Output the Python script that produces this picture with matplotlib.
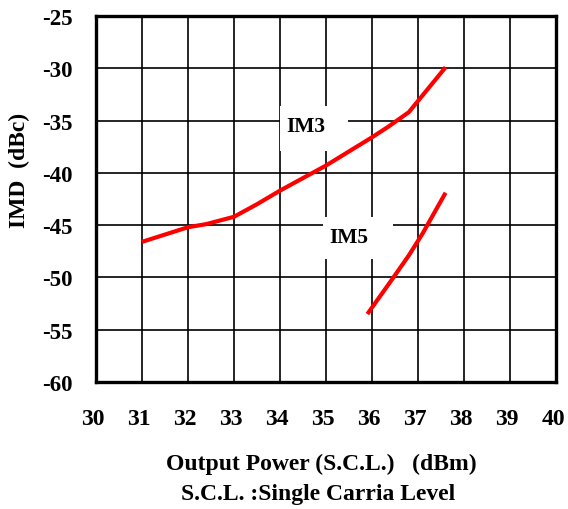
import matplotlib
matplotlib.use('Agg')
import matplotlib.pyplot as plt
import matplotlib.transforms as mtransforms
from matplotlib.patches import Rectangle

# IM3 / IM5 curves
im3_x = [31.0, 32.0, 32.4, 33.0, 33.5, 34.0, 35.0, 36.0, 36.35, 36.8, 37.6]
im3_y = [-46.6, -45.2, -44.9, -44.2, -43.0, -41.7, -39.3, -36.6, -35.6, -34.2, -29.9]
im5_x = [35.9, 36.45, 36.8, 37.1, 37.6]
im5_y = [-53.5, -50.1, -47.9, -45.8, -41.9]

x_ticks = list(range(30, 41))
y_ticks = list(range(-60, -24, 5))

plt.rcParams['font.family'] = ['Liberation Serif', 'DejaVu Serif']
plt.rcParams['font.weight'] = 'bold'

fig = plt.figure(figsize=(5.68, 5.1), dpi=100)
ax = fig.add_axes([96 / 568, 1 - 383 / 510, 460 / 568, 366 / 510])

ax.set_xlim(30, 40)
ax.set_ylim(-60, -25)
ax.set_xticks(x_ticks)
ax.set_yticks(y_ticks)
ax.set_xticklabels([str(v) for v in x_ticks], fontsize=17, fontweight='bold')
ax.set_yticklabels([str(v) for v in y_ticks], fontsize=16.5, fontweight='bold')
ax.tick_params(axis='both', length=0)
ax.tick_params(axis='x', pad=19)
ax.tick_params(axis='y', pad=17)

# x labels sit a little left of their gridlines in the reference
shift = mtransforms.ScaledTranslation(-3 / 100, 0, fig.dpi_scale_trans)
for lbl in ax.get_xticklabels():
    lbl.set_transform(lbl.get_transform() + shift)

ax.grid(True, color='black', linewidth=1.2)
ax.set_axisbelow(True)
for s in ax.spines.values():
    s.set_linewidth(2.4)
    s.set_color('black')

ax.plot(im3_x, im3_y, color='#ff0000', linewidth=3, solid_capstyle='butt', zorder=3)
ax.plot(im5_x, im5_y, color='#ff0000', linewidth=3, solid_capstyle='butt', zorder=3)

# white boxes under the curve labels, hiding the grid
ax.add_patch(Rectangle((34.0, -37.9), 1.48, 4.3, facecolor='white', edgecolor='none', zorder=2))
ax.add_patch(Rectangle((34.93, -48.2), 1.53, 4.0, facecolor='white', edgecolor='none', zorder=2))
ax.text(34.57, -35.5, 'IM3', fontsize=15.5, fontweight='bold', ha='center', va='center', zorder=4)
ax.text(35.5, -46.1, 'IM5', fontsize=15.5, fontweight='bold', ha='center', va='center', zorder=4)

fig.text(19 / 568, 1 - 170 / 510, 'IMD  (dBc)', rotation=90, fontsize=17, fontweight='bold',
         ha='center', va='center')
fig.text(321 / 568, 1 - 464 / 510, 'Output Power (S.C.L.)   (dBm)', fontsize=17,
         fontweight='bold', ha='center', va='center')
fig.text(318 / 568, 1 - 495 / 510, 'S.C.L. :Single Carria Level', fontsize=17,
         fontweight='bold', ha='center', va='center')

fig.savefig('out.png', dpi=100)
